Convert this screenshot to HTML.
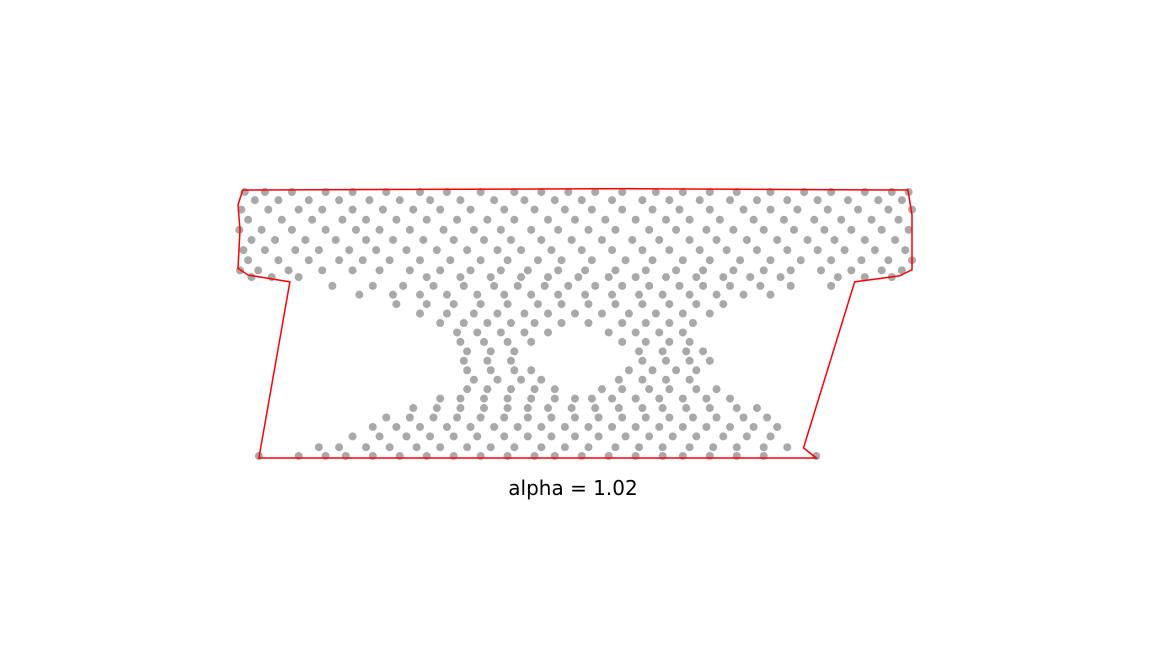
<!DOCTYPE html>
<html><head><meta charset="utf-8">
<style>
html,body{margin:0;padding:0;background:#fff;width:1152px;height:648px;overflow:hidden}
svg{display:block}
</style></head>
<body>
<svg id="chart" width="1152" height="648" viewBox="0 0 1152 648" xmlns="http://www.w3.org/2000/svg">
<rect width="1152" height="648" fill="#fff"/>
<g id="pts"></g>
<g id="hull"></g>
<text x="573" y="495" text-anchor="middle" font-family="'DejaVu Sans','Liberation Sans',sans-serif" font-size="20" fill="#000">alpha = 1.02</text>
</svg>
<script>
const hullX = [0.7,58.1,99.4,100,100,98.2,91.5,83.9,85.8,3.1,7.7,1.5,0,0.3,0,0.7];
const hullY = [39.7,39.9,39.7,36,27.9,27,26.1,1.5,0,0,26.1,27.1,28.1,33.8,37.5,39.7];
const rowY = [39.4,38.2,36.8,35.3,33.8,32.3,30.8,29.3,27.8,26.8,25.5,24.2,22.8,21.4,20,18.6,17.2,15.8,14.4,13,11.6,10.2,8.8,7.4,6,4.6,3.2,1.6,0.3];
const rowXs = [
[1,4,8,13,17,22,27,31,36,41,45,49,53,57,62,66,70,74,79,84,88,93,97,99.5],
[2.5,6,10.5,15,19.5,24,28.5,33,38,42.5,47,51,55.5,60,64,68.5,73,77,81.5,86,90.5,95,98.5],
[0.5,4.5,9,12.5,17,21.5,26,30,34.5,39.5,44,48.5,52.5,57,61.5,65.5,70,75,79,83,87.5,92,96.5,100],
[1.5,6.5,11,15.5,19,23.5,28,32.5,37,41,46,50,54.5,59,63.5,67,71.5,76.5,81,85.5,89.5,94,98],
[0.2,3.5,8,13,17.5,21,25.5,30.5,35,39,43.5,47.5,52,56,61,65,69.5,73.5,78,82.5,87,91,95.5,99.5],
[2,5.5,10,14.5,19,23,27.5,32,36.5,40.5,45,49.5,54,58.5,62.5,67,71,75.5,80,84.5,88.5,93,97.5],
[0.8,4,8.5,12,16.5,20.5,25,29.5,34,38.5,42,46.5,51,55.5,60,64,68.5,72.5,77,81.5,86,90,94.5,99],
[1.5,6,10.5,15,18.5,22.5,27,31.5,36,40,44.5,48,52.5,57.5,61.5,66,70,74.5,79,83.5,88,92.5,96.5,100],
[0.3,3,7.5,12.5,17,21,25.5,30,34.5,39,43,47.5,51.5,56,60.5,65,69,73.5,78,82,86.5,91,95.5,98.5],
[2,5,9,28,33,37.5,42,46,50.5,55,59,63.5,68,72,76,80.5,89,93,97],
[14,20,24.5,29,33.5,38,41.5,45.5,49,53,57,61,65.5,69,73,77.5,82,88],
[18,23,27,31,35.5,39.5,43.5,47.5,51.5,55.5,59.5,63,67,71,75,79],
[23.5,28,32,36,40,44.5,48,52,56,60,64,68,72],
[27,31,35,38.5,42.5,46,50,54,58,62,66,70],
[30,33.5,37,40.5,44,48,52,57,60.5,64,67.5],
[32.5,35.5,39,42.5,46,55,59,62.5,66],
[33,36.5,40,43.5,57,60.5,64,67],
[34,37.5,41,59.5,63,66.5,69],
[33.5,37,40.5,60,63.5,67,70],
[34,37.5,41,43.5,58,61.5,65,68],
[35,38.5,42,45,56.5,60,63.5,67],
[34,37,40.5,44,47,54,57,61,64,68,71],
[30,33,36.5,40,43.5,47,50,52.5,55.5,59,62.5,66,69.5,73],
[26,29.5,33,36.5,40,43,46,49.5,53,56.5,60,63,66.5,70,74,77],
[22,25.5,29,32.5,36,39.5,43,46.5,50,53.5,57,60.5,64,67.5,71,75,78.5],
[20,23.5,27,31,34.5,38,41.5,45,48.5,52,55.5,59,62.5,66,69.5,73,76.5,80],
[17,21,25,28.5,32,35.5,39.5,43,46.5,50,53.5,57.5,61,64.5,68,72,75.5,79],
[12,15,19,22.5,26.5,30,34,37.5,41,45,48.5,52,56,59.5,63,67,70.5,74,78,81.5],
[3.1,9,13,16,20,24,28,32,36,40,44,47,51,55,59,63,66,70,74,78,85.8]
];
const NS='http://www.w3.org/2000/svg';
function sx(x){return 238 + x*6.74;}
function sy(y){return 458 - y*6.75;}
const pg=document.getElementById('pts');
rowY.forEach(function(y,i){
  rowXs[i].forEach(function(x){
    const c=document.createElementNS(NS,'circle');
    c.setAttribute('cx',sx(x));c.setAttribute('cy',sy(y));c.setAttribute('r',4);
    c.setAttribute('fill','#a9a9a9');
    
    
    pg.appendChild(c);
  });
});
const hg=document.getElementById('hull');
const pl=document.createElementNS(NS,'polyline');
pl.setAttribute('points',hullX.map(function(x,i){return sx(x)+','+sy(hullY[i]);}).join(' '));
pl.setAttribute('fill','none');pl.setAttribute('stroke','#ff0000');pl.setAttribute('stroke-width','1.5');


hg.appendChild(pl);
</script>
</body></html>
